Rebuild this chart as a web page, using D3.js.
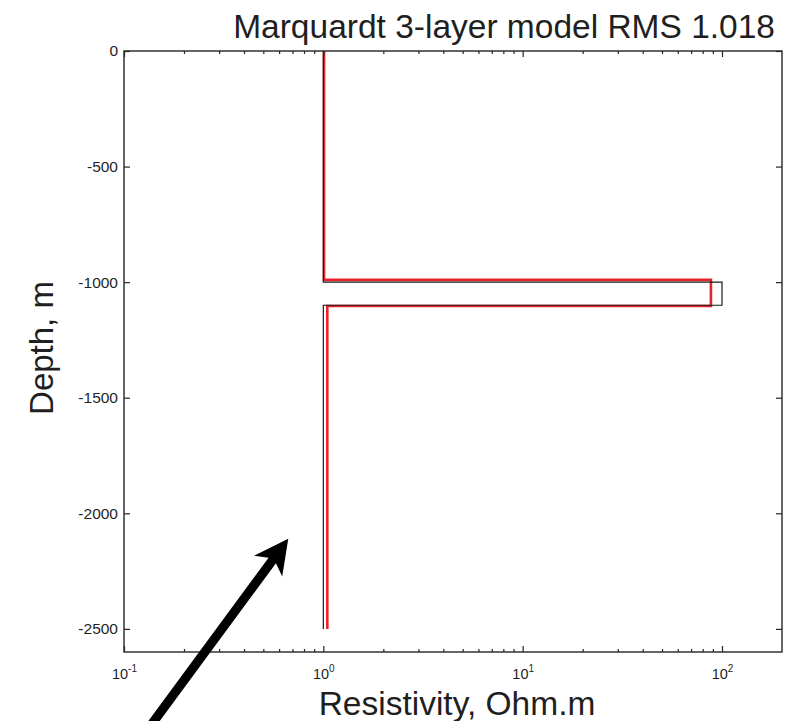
<!DOCTYPE html>
<html>
<head>
<meta charset="utf-8">
<script src="https://cdn.jsdelivr.net/npm/d3@7"></script>
<style>
  html, body { margin: 0; padding: 0; background: #fff; }
  svg { display: block; font-family: "Liberation Sans", Arial, Helvetica, sans-serif; }
</style>
</head>
<body>
<svg id="chart" width="797" height="721"></svg>
<script>
// ---- data ----
const titleText = "Marquardt 3-layer model RMS 1.018";
const xLabelText = "Resistivity, Ohm.m";
const yLabelText = "Depth, m";

// true model (black): layer resistivities and interface depths
const trueRes = [1, 100, 1];
const trueDepth = [0, -1000, -1100, -2500];

// Marquardt inversion result (red)
const invRes = [1.008, 88, 1.047];
const invDepth = [0, -990, -1103, -2500];

const xDomain = [0.1, 200];
const yDomain = [-2600, 0];
const xMajorTicks = [0.1, 1, 10, 100];
const xTickExponents = ["-1", "0", "1", "2"];
const yTicks = [0, -500, -1000, -1500, -2000, -2500];

// annotation arrow (data coordinates: tail -> tip)
const arrowTail = [0.133, -2930];
const arrowTip = [0.667, -2110];

// ---- layout ----
const svg = d3.select("#chart");
const plotLeft = 124, plotRight = 782, plotTop = 51, plotBottom = 652;
const axisColor = "#262626";

const x = d3.scaleLog().domain(xDomain).range([plotLeft, plotRight]);
const y = d3.scaleLinear().domain(yDomain).range([plotBottom, plotTop]);

// minor ticks for log axis
const xMinor = [];
for (let e = -1; e <= 2; e++) {
  for (let m = 2; m <= 9; m++) {
    const v = m * Math.pow(10, e);
    if (v > xDomain[0] && v < xDomain[1]) xMinor.push(v);
  }
}

// background
svg.append("rect").attr("x", 0).attr("y", 0).attr("width", 797).attr("height", 721).attr("fill", "#fff");

// step profile builder
function stepPoints(res, depth) {
  const pts = [];
  for (let i = 0; i < res.length; i++) {
    pts.push([res[i], depth[i]]);
    pts.push([res[i], depth[i + 1]]);
  }
  return pts;
}
const line = d3.line().x(d => x(d[0])).y(d => y(d[1]));

// red (inverted)
svg.append("path")
  .datum(stepPoints(invRes, invDepth))
  .attr("d", line)
  .attr("fill", "none")
  .attr("stroke", "#e8232b")
  .attr("stroke-width", 2.6);

// black (true)
svg.append("path")
  .datum(stepPoints(trueRes, trueDepth))
  .attr("d", line)
  .attr("fill", "none")
  .attr("stroke", "#1a1a1a")
  .attr("stroke-width", 1.2);

// ---- axes ----
function styleAxis(g) {
  g.select(".domain").remove();
  g.selectAll(".tick line").attr("stroke", axisColor).attr("stroke-width", 1.2);
  g.selectAll(".tick text").attr("fill", "#1f1f1f");
}

// bottom major
const gBottom = svg.append("g").attr("transform", `translate(0,${plotBottom})`)
  .call(d3.axisBottom(x).tickValues(xMajorTicks).tickSize(-6).tickPadding(12).tickFormat(() => ""))
  .call(styleAxis);
gBottom.selectAll(".tick text").each(function(d, i) {
  const t = d3.select(this);
  t.text(null).attr("font-size", 14.5).attr("text-anchor", "middle").attr("dy", "1.0em");
  t.append("tspan").text("10");
  t.append("tspan").attr("font-size", 10).attr("dy", "-0.7em").text(xTickExponents[i]);
});
svg.append("g").attr("transform", `translate(0,${plotBottom})`)
  .call(d3.axisBottom(x).tickValues(xMinor).tickSize(-3).tickFormat(() => ""))
  .call(styleAxis);

// top
svg.append("g").attr("transform", `translate(0,${plotTop})`)
  .call(d3.axisTop(x).tickValues(xMajorTicks).tickSize(-6).tickFormat(() => ""))
  .call(styleAxis);
svg.append("g").attr("transform", `translate(0,${plotTop})`)
  .call(d3.axisTop(x).tickValues(xMinor).tickSize(-3).tickFormat(() => ""))
  .call(styleAxis);

// left
svg.append("g").attr("transform", `translate(${plotLeft},0)`)
  .call(d3.axisLeft(y).tickValues(yTicks).tickSize(-6).tickPadding(6).tickFormat(d => String(d)))
  .call(styleAxis)
  .selectAll(".tick text").attr("font-size", 15.5);

// right
svg.append("g").attr("transform", `translate(${plotRight},0)`)
  .call(d3.axisRight(y).tickValues(yTicks).tickSize(-6).tickFormat(() => ""))
  .call(styleAxis);

// axes box
svg.append("rect")
  .attr("x", plotLeft).attr("y", plotTop)
  .attr("width", plotRight - plotLeft).attr("height", plotBottom - plotTop)
  .attr("fill", "none").attr("stroke", axisColor).attr("stroke-width", 1.4);

// ---- texts ----
svg.append("text")
  .attr("x", 775).attr("y", 38)
  .attr("text-anchor", "end")
  .attr("font-size", 33.5)
  .attr("fill", "#1f1f1f")
  .text(titleText);

svg.append("text")
  .attr("x", 457).attr("y", 715)
  .attr("text-anchor", "middle")
  .attr("font-size", 33.5)
  .attr("fill", "#1f1f1f")
  .text(xLabelText);

svg.append("text")
  .attr("transform", `translate(53,348) rotate(-90)`)
  .attr("text-anchor", "middle")
  .attr("font-size", 33)
  .attr("fill", "#1f1f1f")
  .text(yLabelText);

// ---- annotation arrow ----
(function() {
  const x0 = x(arrowTail[0]), y0 = y(arrowTail[1]);
  const x1 = x(arrowTip[0]), y1 = y(arrowTip[1]);
  const dx = x1 - x0, dy = y1 - y0, L = Math.hypot(dx, dy);
  const ux = dx / L, uy = dy / L;   // along
  const px = -uy, py = ux;          // perpendicular
  const headLen = 34, headHalf = 17.5, notch = 27, shaftHalf = 4.6;
  const P = (a, b) => [x1 - ux * a + px * b, y1 - uy * a + py * b];
  const pts = [
    [x0 + px * shaftHalf, y0 + py * shaftHalf],
    P(notch, shaftHalf),
    P(headLen, headHalf),
    [x1, y1],
    P(headLen, -headHalf),
    P(notch, -shaftHalf),
    [x0 - px * shaftHalf, y0 - py * shaftHalf]
  ];
  svg.append("path")
    .attr("d", "M" + pts.map(p => p.join(",")).join("L") + "Z")
    .attr("fill", "#000");
})();
</script>
</body>
</html>
